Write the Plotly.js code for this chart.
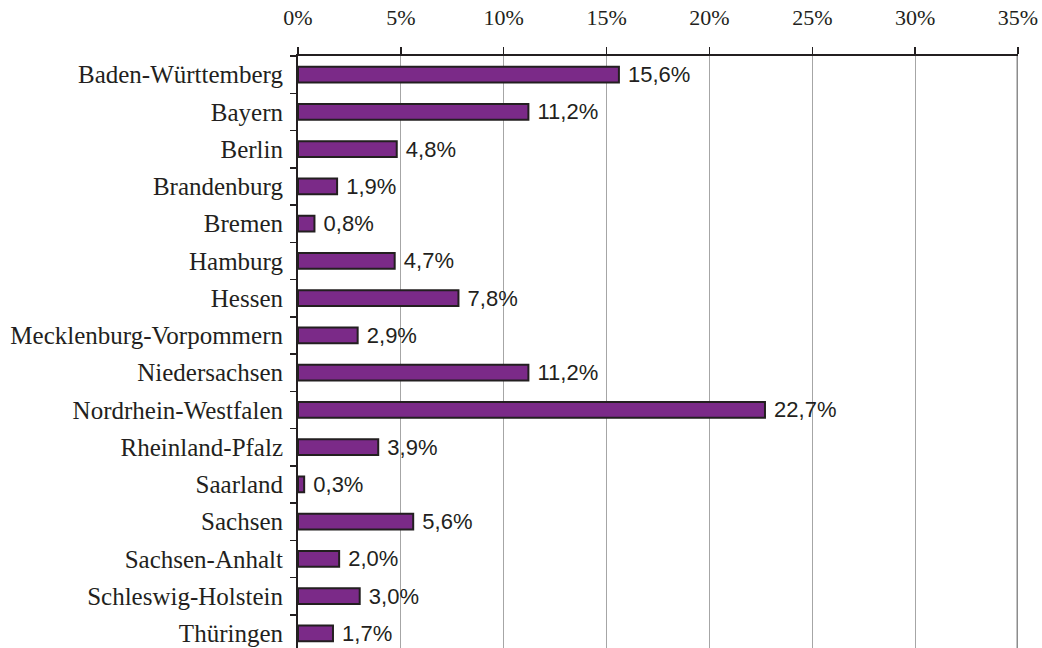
<!DOCTYPE html>
<html>
<head>
<meta charset="utf-8">
<script src="https://cdn.plot.ly/plotly-3.0.1.min.js"></script>
<style>
  html, body { margin: 0; padding: 0; overflow: hidden; background: #fff; }
</style>
</head>
<body>
<div id="chart"></div>
<script>
'use strict';

// Bundesländer, top to bottom
let states = [
  'Baden-Württemberg', 'Bayern', 'Berlin', 'Brandenburg', 'Bremen',
  'Hamburg', 'Hessen', 'Mecklenburg-Vorpommern', 'Niedersachsen',
  'Nordrhein-Westfalen', 'Rheinland-Pfalz', 'Saarland', 'Sachsen',
  'Sachsen-Anhalt', 'Schleswig-Holstein', 'Thüringen'
];

// share in percent
let shares = [15.6, 11.2, 4.8, 1.9, 0.8, 4.7, 7.8, 2.9, 11.2, 22.7, 3.9, 0.3, 5.6, 2.0, 3.0, 1.7];

let x_ticks = [0, 5, 10, 15, 20, 25, 30, 35];

function draw(){
  var traces = [{
    type: 'bar',
    orientation: 'h',
    x: shares,
    y: states,
    width: 0.42,
    marker: {
      color: '#7b2a88',
      line: { color: '#231f20', width: 2 }
    },
    texttemplate: '\u00a0%{x:.1f}%',
    textposition: 'outside',
    constraintext: 'none',
    cliponaxis: false,
    textfont: { family: 'Liberation Sans, Arial, sans-serif', size: 22, color: '#231f20' },
    hoverinfo: 'none'
  }];

  var layout = {
    width: 1042,
    height: 652,
    separators: ',.',
    showlegend: false,
    paper_bgcolor: '#ffffff',
    plot_bgcolor: '#ffffff',
    margin: { l: 298, r: 24, t: 56, b: 0, pad: 0 },
    font: { family: 'Liberation Serif, Times New Roman, serif', size: 22, color: '#231f20' },
    xaxis: {
      side: 'top',
      range: [0, 35],
      tickvals: x_ticks,
      ticktext: x_ticks.map(v => v + '%'),
      showgrid: true,
      gridcolor: '#a6a6a6',
      gridwidth: 1,
      zeroline: false,
      showline: true,
      linecolor: '#231f20',
      linewidth: 2,
      ticks: 'outside',
      ticklen: 7,
      tickwidth: 1.5,
      tickcolor: '#231f20',
      ticklabelstandoff: 13,
      tickfont: { family: 'Liberation Serif, Times New Roman, serif', size: 22, color: '#231f20' },
      fixedrange: true
    },
    yaxis: {
      type: 'category',
      autorange: 'reversed',
      showline: true,
      linecolor: '#231f20',
      linewidth: 2,
      ticks: 'outside',
      tickson: 'boundaries',
      ticklen: 6,
      tickwidth: 1.5,
      tickcolor: '#231f20',
      ticklabelstandoff: 8,
      showgrid: false,
      tickfont: { family: 'Liberation Serif, Times New Roman, serif', size: 25, color: '#231f20' },
      fixedrange: true
    },
    shapes: [{
      type: 'line', xref: 'x', yref: 'paper',
      x0: 35, x1: 35, y0: 0, y1: 1,
      line: { color: '#8c8c8c', width: 3 }
    }]
  };

  Plotly.newPlot('chart', traces, layout, { staticPlot: true, displayModeBar: false });
}

draw();
</script>
</body>
</html>
